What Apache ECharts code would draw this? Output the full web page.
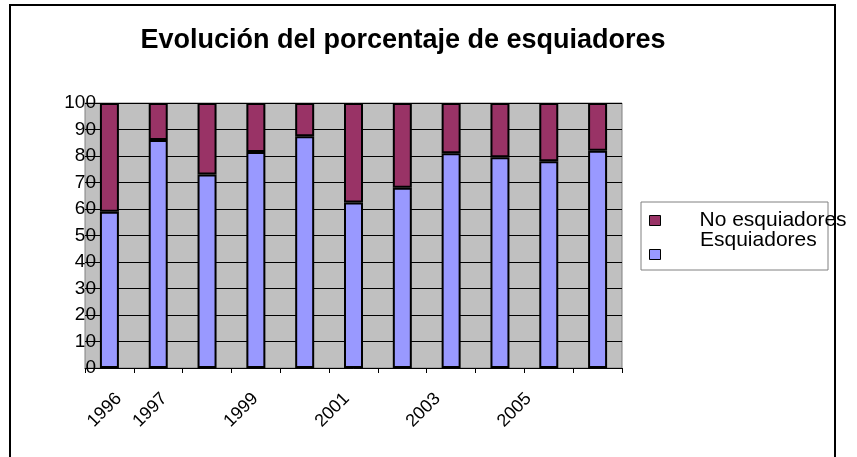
<!DOCTYPE html>
<html>
<head>
<meta charset="utf-8">
<script src="https://cdn.jsdelivr.net/npm/echarts@6/dist/echarts.min.js"></script>
<style>
  html, body { margin: 0; padding: 0; background: #fff; }
  #chart { width: 857px; height: 457px; }
</style>
</head>
<body>
<div id="chart"></div>
<script>
// años (11 barras), etiquetas solo en algunos
var years = ['1996', '1997', '1998', '1999', '2000', '2001', '2002', '2003', '2004', '2005', '2006']
var shownLabels = [0, 1, 3, 5, 7, 9]
var esquiadores = [59, 86, 73, 81.5, 87.5, 62.5, 68, 81, 79.5, 78, 82]
var noEsquiadores = [41, 14, 27, 18.5, 12.5, 37.5, 32, 19, 20.5, 22, 18]
var yTicks = { min: 0, max: 100, interval: 10 }

var chart = echarts.init(document.getElementById('chart'))
var font = 'Arial, "Liberation Sans", sans-serif'

var legendBase = {
  padding: 0, icon: 'rect', itemWidth: 11, itemHeight: 10,
  selectedMode: false, z: 20,
  itemStyle: { borderColor: '#000', borderWidth: 1 },
  textStyle: { fontFamily: font, fontSize: 21, color: '#000', padding: [0, 0, 0, 34] }
}

chart.setOption({
  animation: false,
  title: {
    text: 'Evolución del porcentaje de esquiadores',
    left: 398,
    top: 22,
    textAlign: 'center',
    textStyle: { fontFamily: font, fontSize: 27, fontWeight: 'bold', color: '#000' }
  },
  graphic: [
    {
      type: 'rect', z: 10,
      shape: { x: 10, y: 5, width: 825, height: 520 },
      style: { fill: 'none', stroke: '#000', lineWidth: 2 }
    },
    {
      type: 'rect', z: 0,
      shape: { x: 641, y: 202, width: 187, height: 68 },
      style: { fill: '#fff', stroke: '#808080', lineWidth: 1 }
    }
  ],
  legend: [
    // "No esquiadores": icono y texto en la misma linea
    Object.assign({}, legendBase, { data: ['No esquiadores'], left: 649, top: 210 }),
    // "Esquiadores": icono mas abajo que el texto, como en Excel
    Object.assign({}, legendBase, {
      data: ['Esquiadores'], left: 649, top: 249,
      formatter: function () { return '' }
    }),
    Object.assign({}, legendBase, {
      data: ['Esquiadores'], left: 660, top: 230,
      itemWidth: 0, itemStyle: { opacity: 0 }
    })
  ],
  grid: [
    {
      left: 85, right: 235, top: 103, bottom: 89,
      show: true, backgroundColor: '#c0c0c0', borderColor: '#808080', borderWidth: 1
    },
    { left: 96, width: 501, top: 103, bottom: 89 }
  ],
  xAxis: [
    {
      type: 'category', gridIndex: 0, data: years,
      axisLine: { lineStyle: { color: '#000', width: 1 } },
      axisTick: { show: true, length: 5, lineStyle: { color: '#000' } },
      axisLabel: { show: false }
    },
    {
      type: 'category', gridIndex: 1, data: years,
      axisLine: { show: false }, axisTick: { show: false },
      axisLabel: {
        rotate: 45, margin: 28, fontFamily: font, fontSize: 18, color: '#000',
        interval: function (i) { return shownLabels.indexOf(i) >= 0 }
      }
    }
  ],
  yAxis: [
    {
      type: 'value', gridIndex: 0,
      min: yTicks.min, max: yTicks.max, interval: yTicks.interval,
      axisLine: { show: false }, axisTick: { show: false },
      axisLabel: { margin: -11, fontFamily: font, fontSize: 19, color: '#000', padding: [0, 0, 6, 0] },
      splitLine: { lineStyle: { color: '#000', width: 1 } }
    },
    { type: 'value', gridIndex: 1, show: false }
  ],
  series: [
    {
      name: 'Esquiadores', type: 'bar', stack: 'total',
      xAxisIndex: 0, yAxisIndex: 0,
      barWidth: 19, data: esquiadores,
      itemStyle: { color: '#9999ff', borderColor: '#000', borderWidth: 2 },
      emphasis: { disabled: true }
    },
    {
      name: 'No esquiadores', type: 'bar', stack: 'total',
      xAxisIndex: 0, yAxisIndex: 0,
      barWidth: 19, data: noEsquiadores,
      itemStyle: { color: '#993366', borderColor: '#000', borderWidth: 2 },
      emphasis: { disabled: true }
    }
  ]
})
</script>
</body>
</html>
